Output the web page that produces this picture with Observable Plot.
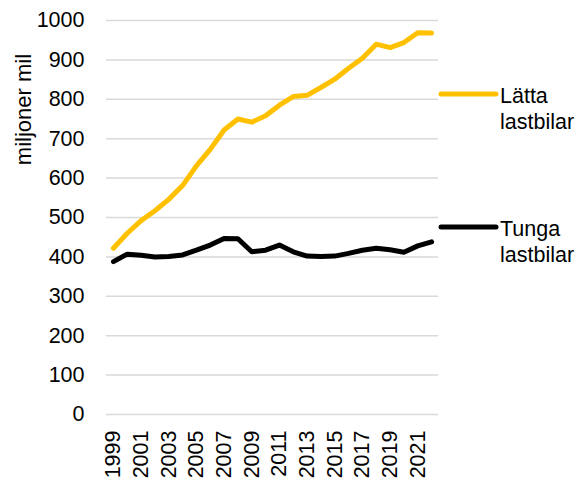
<!DOCTYPE html>
<html><head><meta charset="utf-8">
<script src="https://cdn.jsdelivr.net/npm/d3@7"></script>
<script src="https://cdn.jsdelivr.net/npm/@observablehq/plot@0.6"></script>
<style>
body{margin:0;background:#fff;}
#chart svg{font-family:"Liberation Sans", Arial, sans-serif;}
</style>
</head><body><div id="chart"></div>
<script>
const years = [1999,2000,2001,2002,2003,2004,2005,2006,2007,2008,2009,2010,2011,2012,2013,2014,2015,2016,2017,2018,2019,2020,2021,2022];
const latta = [422,460,492,517,546,581,631,673,722,750,742,758,785,807,810,830,851,879,904,940,931,944,969,968];
const tunga = [388,407,404,400,401,405,417,430,447,446,413,417,430,413,402,401,402,409,417,422,418,412,428,438];
const yTicks = [0,100,200,300,400,500,600,700,800,900,1000];
const xTicks = [1999,2001,2003,2005,2007,2009,2011,2013,2015,2017,2019,2021];
const seriesNames = ["Lätta lastbilar","Tunga lastbilar"];
const legendLines = [["Lätta","lastbilar"],["Tunga","lastbilar"]];
const seriesColors = ["#FFC000","#000000"];
const yLabel = "miljoner mil";

const data = years.flatMap((yr,i)=>[
  {year:yr, value:latta[i], series:seriesNames[0]},
  {year:yr, value:tunga[i], series:seriesNames[1]}
]);

const chart = Plot.plot({
  width:583, height:484,
  marginLeft:106, marginRight:145, marginTop:20, marginBottom:70,
  style:{fontFamily:'"Liberation Sans", Arial, sans-serif', fontSize:"21.5px", color:"#000", background:"#fff", overflow:"visible"},
  x:{type:"point", domain:years, padding:0.5, round:false},
  y:{domain:[0,1000]},
  color:{domain:seriesNames, range:seriesColors},
  marks:[
    Plot.gridY(yTicks,{stroke:"#d9d9d9", strokeOpacity:1, strokeWidth:1.5}),
    Plot.axisY(yTicks,{tickSize:0, tickPadding:22, fontSize:21.5, label:null, tickFormat:d=>String(d)}),
    Plot.axisX(xTicks,{tickSize:0, tickRotate:-90, tickPadding:16, fontSize:21.5, label:null, tickFormat:d=>String(d)}),
    Plot.text([yLabel],{frameAnchor:"top-left", dx:-83, dy:89, rotate:-90, textAnchor:"middle", lineAnchor:"middle", fontSize:22, fill:"#000"}),
    Plot.line(data,{x:"year", y:"value", z:"series", stroke:"series", strokeWidth:5, strokeLinecap:"round", strokeLinejoin:"round"})
  ]
});

document.getElementById("chart").append(chart);

// legend
const svg = d3.select(chart);
const lg = svg.append("g").attr("class","legend").attr("text-anchor","start");
const legendY = [94, 227];
seriesNames.forEach((name,i)=>{
  const y = legendY[i];
  lg.append("line").attr("x1",441).attr("x2",496).attr("y1",y).attr("y2",y)
    .attr("stroke",seriesColors[i]).attr("stroke-width",5).attr("stroke-linecap","round");
  const t = lg.append("text").attr("x",500).attr("y",y+8.5).attr("font-size",21.5).attr("fill","#000").attr("text-anchor","start");
  legendLines[i].forEach((ln,j)=>{
    t.append("tspan").attr("x",500).attr("dy", j===0?0:26).text(ln);
  });
});
</script>
</body></html>
